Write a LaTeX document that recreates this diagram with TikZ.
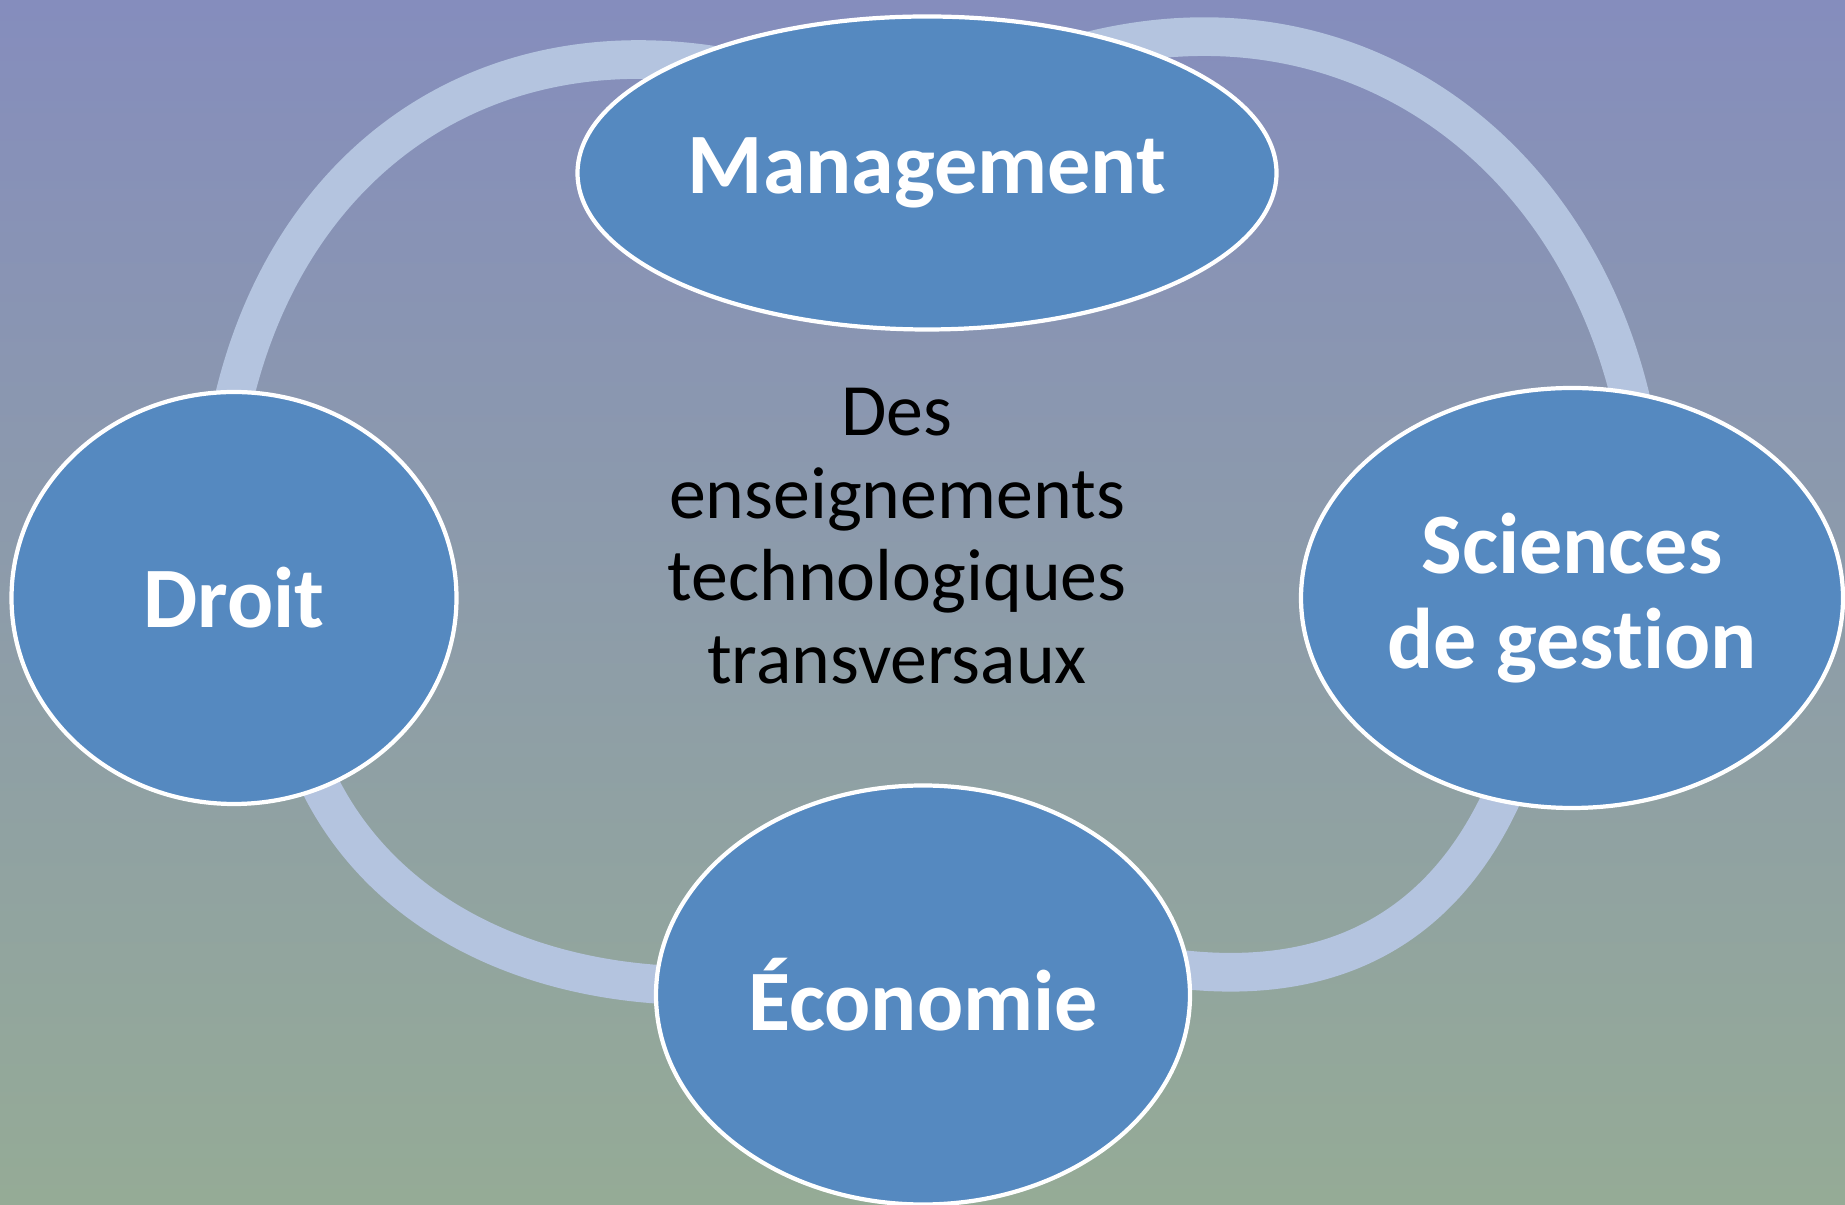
\documentclass[tikz,border=0pt]{standalone}
\usepackage{fontspec}
\setmainfont{Carlito}[Ligatures=NoCommon]
\usetikzlibrary{shapes.geometric}
\pgfdeclarelayer{back}
\pgfsetlayers{back,main}
\definecolor{bgtop}{RGB}{133,141,189}
\definecolor{bgbottom}{RGB}{149,171,150}
\definecolor{ringblue}{RGB}{180,196,223}
\definecolor{discblue}{RGB}{85,137,192}

\tikzset{
  disc/.style={ellipse, draw=white, line width=1.2pt, fill=discblue, text=white,
    font=\fontsize{24.5}{27}\selectfont\bfseries, align=center, inner sep=0pt, outer sep=0pt},
  ring/.style={draw=ringblue, line width=11pt, shorten <=-12pt, shorten >=-12pt}
}

\begin{document}
\begin{tikzpicture}
\useasboundingbox (0,0) rectangle (18.45,12.04);
\node[disc, minimum width=6.99cm, minimum height=3.13cm] (mgmt) at (9.27,10.31) {Management};
\node[disc, minimum width=4.45cm, minimum height=4.12cm] (droit) at (2.34,6.06) {Droit};
\node[disc, minimum width=5.42cm, minimum height=4.20cm] (sci) at (15.72,6.06) {Sciences\\de gestion};
\node[disc, minimum width=5.34cm, minimum height=4.19cm] (eco) at (9.23,2.09) {Économie};
\node[font=\fontsize{21}{23.5}\selectfont, align=center] (txt) at (8.97,6.68) {Des\\enseignements\\technologiques\\transversaux};

\begin{pgfonlayer}{back}
\fill[top color=bgtop, bottom color=bgbottom] (0,0) rectangle (18.45,12.04);
\path
(droit.90) edge[ring, out=80, in=170] (mgmt.155)
(mgmt.34) edge[ring, out=15, in=100] (sci.74)
(sci.251) edge[ring, out=250, in=-10] (eco.5)
(eco.178) edge[ring, out=180, in=-70, looseness=0.85] (droit.294);
\end{pgfonlayer}
\end{tikzpicture}
\end{document}
